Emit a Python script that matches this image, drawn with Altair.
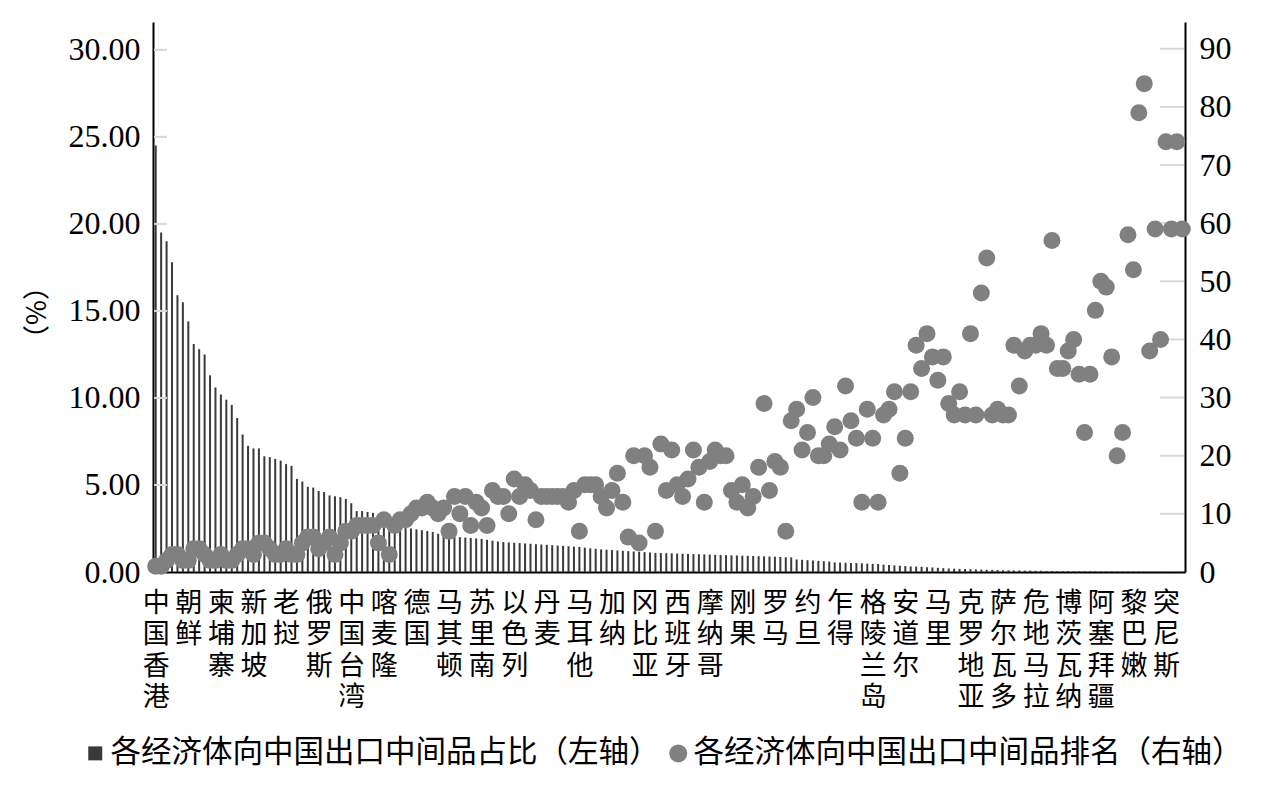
import json
import altair as alt
import pandas as pd

# x-axis labels (every 6th economy is labelled)
labels = ["中国香港", "朝鲜", "柬埔寨", "新加坡", "老挝", "俄罗斯", "中国台湾", "喀麦隆",
          "德国", "马其顿", "苏里南", "以色列", "丹麦", "马耳他", "加纳", "冈比亚",
          "西班牙", "摩纳哥", "刚果", "罗马", "约旦", "乍得", "格陵兰岛", "安道尔",
          "马里", "克罗地亚", "萨尔瓦多", "危地马拉", "博茨瓦纳", "阿塞拜疆", "黎巴嫩", "突尼斯"]

# share of intermediate-goods exports going to China (%), left axis
share = [24.5, 19.5, 19.0, 17.8, 15.9, 15.5, 14.4, 13.1, 12.8, 12.5,
         11.3, 10.6, 10.2, 9.9, 9.6, 8.85, 7.9, 7.25, 7.1, 7.1,
         6.65, 6.6, 6.5, 6.4, 6.2, 6.1, 5.35, 5.2, 4.9, 4.85,
         4.65, 4.6, 4.4, 4.35, 4.3, 4.2, 3.95, 3.5, 3.5, 3.45,
         3.4, 3.3, 3.2, 3.15, 2.65, 2.6, 2.55, 2.5, 2.45, 2.4,
         2.35, 2.3, 2.2, 2.15, 2.1, 2.05, 2.0, 1.98, 1.95, 1.93,
         1.9, 1.85, 1.8, 1.75, 1.72, 1.7, 1.68, 1.66, 1.64, 1.62,
         1.6, 1.58, 1.56, 1.54, 1.52, 1.5, 1.48, 1.46, 1.44, 1.4,
         1.36, 1.33, 1.3, 1.28, 1.26, 1.24, 1.22, 1.2, 1.18, 1.16,
         1.14, 1.12, 1.1, 1.09, 1.08, 1.07, 1.06, 1.05, 1.04, 1.03,
         1.02, 1.01, 1.0, 0.99, 0.98, 0.97, 0.96, 0.95, 0.94, 0.93,
         0.92, 0.91, 0.9, 0.89, 0.88, 0.86, 0.85, 0.84, 0.72, 0.7,
         0.68, 0.66, 0.64, 0.62, 0.6, 0.55, 0.54, 0.53, 0.52, 0.51,
         0.5, 0.48, 0.47, 0.46, 0.42, 0.4, 0.38, 0.36, 0.34, 0.32,
         0.31, 0.3, 0.28, 0.26, 0.24, 0.22, 0.2, 0.19, 0.18, 0.17,
         0.16, 0.15, 0.14, 0.13, 0.12, 0.11, 0.1, 0.1, 0.09, 0.09,
         0.08, 0.08, 0.07, 0.07, 0.06, 0.06, 0.06, 0.05, 0.05, 0.05,
         0.04, 0.04, 0.04, 0.03, 0.03, 0.03, 0.03, 0.02, 0.02, 0.02,
         0.02, 0.02, 0.01, 0.01, 0.01, 0.01, 0.01, 0.01, 0.01, 0.01]

# China's rank among each economy's intermediate-goods export destinations, right axis
rank = [1, 1, 2, 3, 3, 2, 2, 4, 4, 3,
        2, 2, 3, 2, 2, 3, 4, 4, 3, 5,
        5, 4, 3, 3, 4, 3, 3, 5, 6, 6,
        4, 5, 6, 3, 5, 7, 7, 8, 8, 8,
        8, 5, 9, 3, 8, 9, 9, 10, 11, 11,
        12, 11, 10, 11, 7, 13, 10, 13, 8, 12,
        11, 8, 14, 13, 13, 10, 16, 13, 15, 14,
        9, 13, 13, 13, 13, 13, 12, 14, 7, 15,
        15, 15, 13, 11, 14, 17, 12, 6, 20, 5,
        20, 18, 7, 22, 14, 21, 15, 13, 16, 21,
        18, 12, 19, 21, 20, 20, 14, 12, 15, 11,
        13, 18, 29, 14, 19, 18, 7, 26, 28, 21,
        24, 30, 20, 20, 22, 25, 21, 32, 26, 23,
        12, 28, 23, 12, 27, 28, 31, 17, 23, 31,
        39, 35, 41, 37, 33, 37, 29, 27, 31, 27,
        41, 27, 48, 54, 27, 28, 27, 27, 39, 32,
        38, 39, 39, 41, 39, 57, 35, 35, 38, 40,
        34, 24, 34, 45, 50, 49, 37, 20, 24, 58,
        52, 79, 84, 38, 59, 40, 74, 59, 74, 59]

left_ticks = [5, 10, 15, 20, 25, 30]
right_ticks = [10, 20, 30, 40, 50, 60, 70, 80, 90]

name_share = "各经济体向中国出口中间品占比（左轴）"
name_rank = "各经济体向中国出口中间品排名（右轴）"

n = len(share)
df_bar = pd.DataFrame({"idx": list(range(n)), "share": share, "series": [name_share] * n})
df_pt = pd.DataFrame({"idx": list(range(n)), "rank": rank, "series": [name_rank] * n})
df_lt = pd.DataFrame({"v": left_ticks})
df_rt = pd.DataFrame({"v": right_ticks})

W, H = 1032, 550
NUM_FONT = "Liberation Serif, Noto Sans CJK SC"
CJK_FONT = "Noto Sans CJK SC"

label_expr = "split(" + json.dumps(labels, ensure_ascii=False) + "[round(datum.value / 6)], '')"

x_axis = alt.Axis(values=list(range(0, n, 6)), labelExpr=label_expr, title=None,
                  ticks=False, tickSize=0, grid=False, domainColor="black", domainWidth=2,
                  labelFont=CJK_FONT, labelFontSize=27, labelLineHeight=31.5,
                  labelColor="black", labelPadding=18, labelOverlap=False,
                  labelFlush=False, labelBound=False, labelAlign="center",
                  labelBaseline="top")
x_scale = alt.Scale(domain=[-0.5, n - 0.5], nice=False, zero=False, padding=0)
x_enc = alt.X("idx:Q", scale=x_scale, axis=x_axis)

left_scale = alt.Scale(domain=[0, 31.6], nice=False)
right_scale = alt.Scale(domain=[0, 94.6], nice=False)

is_share = "datum.value == '" + name_share + "'"
color_scale = alt.Scale(domain=[name_share, name_rank], range=["#3a3a3a", "#808080"])
legend = alt.Legend(
    title=None, orient="none", legendX=-73, legendY=716, direction="horizontal",
    labelFont=CJK_FONT, labelFontSize=30.5, labelColor="black", labelLimit=1000,
    labelOffset=0, columnPadding=3, padding=0, symbolStrokeWidth=0,
    symbolType=alt.ExprRef(expr=is_share + " ? 'square' : 'circle'"),
    symbolSize=alt.ExprRef(expr=is_share + " ? 196 : 324"),
)

bars = alt.Chart(df_bar).mark_bar(size=2).encode(
    x=x_enc,
    y=alt.Y("share:Q", scale=left_scale,
            axis=alt.Axis(values=left_ticks + [0], format=".2f", orient="left",
                          title="（%）", titleFont=CJK_FONT, titleFontSize=27,
                          titleFontWeight="normal", titleColor="black", titleAngle=270,
                          titleX=-116, titleY=290, titleAlign="center", titleBaseline="middle",
                          labelFont=NUM_FONT, labelFontSize=32, labelColor="black",
                          labelPadding=13, ticks=False, tickSize=0, grid=False,
                          domainColor="black", domainWidth=2)),
    color=alt.Color("series:N", scale=color_scale, legend=legend),
)

lt = alt.Chart(df_lt).mark_rule(color="#d9d9d9", strokeWidth=2).encode(
    y=alt.Y("v:Q", scale=left_scale, axis=None),
    x=alt.value(1), x2=alt.value(14),
)

rt = alt.Chart(df_rt).mark_rule(color="#d9d9d9", strokeWidth=2).encode(
    y=alt.Y("v:Q", scale=right_scale, axis=None),
    x=alt.value(W - 25), x2=alt.value(W - 1),
)

points = alt.Chart(df_pt).mark_circle(size=289, opacity=1).encode(
    x=x_enc,
    y=alt.Y("rank:Q", scale=right_scale,
            axis=alt.Axis(values=right_ticks + [0], format="d", orient="right", title=None,
                          labelFont=NUM_FONT, labelFontSize=32, labelColor="black",
                          labelPadding=14, ticks=False, tickSize=0, grid=False,
                          domainColor="black", domainWidth=2)),
    color=alt.Color("series:N", scale=color_scale, legend=legend),
)

chart = alt.layer(bars, lt, rt, points).resolve_scale(y="independent").properties(
    width=W, height=H,
    autosize=alt.AutoSizeParams(type="none"),
    padding={"left": 145, "top": 14, "right": 68, "bottom": 200},
    background="white",
).configure_view(strokeWidth=0)

chart.save("out.html", embed_options={"renderer": "svg", "actions": False})
